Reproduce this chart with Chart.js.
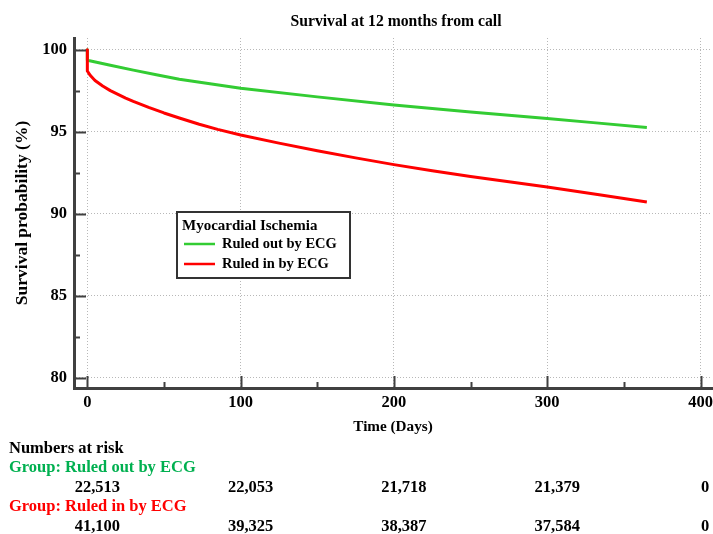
<!DOCTYPE html>
<html>
<head>
<meta charset="utf-8">
<script src="https://cdn.jsdelivr.net/npm/chart.js@4/dist/chart.umd.min.js"></script>
<style>
  body { margin: 0; background: #fff; }
  canvas { display: block; }
</style>
</head>
<body>
<canvas id="kmChart" width="713" height="534"></canvas>
<script>
// Kaplan-Meier curves (days, survival %)
const outDays = [0, 0, 15, 30, 45, 60, 80, 100, 150, 200, 250, 300, 330, 365];
const outSurv = [100, 99.35, 99.05, 98.75, 98.47, 98.2, 97.92, 97.64, 97.12, 96.62, 96.2, 95.8, 95.55, 95.26];
const inDays = [0, 0, 2, 5, 10, 15, 20, 25, 30, 40, 50, 60, 73, 85, 100, 125, 150, 175, 200, 225, 250, 275, 300, 335, 365];
const inSurv = [100, 98.7, 98.42, 98.12, 97.78, 97.5, 97.27, 97.05, 96.85, 96.48, 96.14, 95.83, 95.45, 95.14, 94.8, 94.3, 93.84, 93.4, 92.99, 92.62, 92.27, 91.94, 91.63, 91.14, 90.71];

const groupNames = ['Ruled out by ECG', 'Ruled in by ECG'];
const xTicks = [0, 100, 200, 300, 400];
const yTicks = [80, 85, 90, 95, 100];

// numbers at risk table
const riskTimes = [0, 100, 200, 300, 400];
const riskOut = ['22,513', '22,053', '21,718', '21,379', '0'];
const riskIn = ['41,100', '39,325', '38,387', '37,584', '0'];

const FONT = '"Liberation Serif", "Times New Roman", serif';
const GREEN = '#33cc33';
const RED = '#ff0000';
const AXIS = '#404040';

const toPts = (xs, ys) => xs.map((d, i) => ({ x: d, y: ys[i] }));

// title, inner tick marks, legend box and risk table
const extras = {
    id: 'extras',
    afterDraw(chart) {
        const { ctx, chartArea: area, scales: { x, y } } = chart;
        ctx.save();

        // title
        ctx.fillStyle = '#000';
        ctx.font = 'bold 15.7px ' + FONT;
        ctx.textAlign = 'center';
        ctx.textBaseline = 'middle';
        ctx.fillText('Survival at 12 months from call', (area.left + area.right) / 2 + 3, 22);

        // tick marks pointing into the plot
        ctx.strokeStyle = AXIS;
        ctx.lineWidth = 2;
        ctx.beginPath();
        yTicks.forEach((v, i) => {
            const py = Math.round(y.getPixelForValue(v)) + 0.5;
            ctx.moveTo(area.left, py); ctx.lineTo(area.left + 12, py);
            if (i < yTicks.length - 1) {
                const pm = Math.round(y.getPixelForValue((v + yTicks[i + 1]) / 2)) + 0.5;
                ctx.moveTo(area.left, pm); ctx.lineTo(area.left + 6, pm);
            }
        });
        xTicks.forEach((v, i) => {
            const px = Math.round(x.getPixelForValue(v)) + 0.5;
            ctx.moveTo(px, area.bottom); ctx.lineTo(px, area.bottom - 12);
            if (i < xTicks.length - 1) {
                const pm = Math.round(x.getPixelForValue((v + xTicks[i + 1]) / 2)) + 0.5;
                ctx.moveTo(pm, area.bottom); ctx.lineTo(pm, area.bottom - 6);
            }
        });
        ctx.stroke();

        // legend box
        const lx = 177, ly = 212, lw = 173, lh = 66;
        ctx.fillStyle = '#fff';
        ctx.fillRect(lx, ly, lw, lh);
        ctx.strokeStyle = '#333';
        ctx.lineWidth = 2;
        ctx.strokeRect(lx, ly, lw, lh);
        ctx.fillStyle = '#000';
        ctx.textAlign = 'left';
        ctx.font = 'bold 15px ' + FONT;
        ctx.fillText('Myocardial Ischemia', 182, 226);
        ctx.font = 'bold 14.5px ' + FONT;
        chart.data.datasets.forEach((ds, i) => {
            const ry = 244 + i * 20;
            ctx.strokeStyle = ds.borderColor;
            ctx.lineWidth = 2.5;
            ctx.beginPath();
            ctx.moveTo(184, ry); ctx.lineTo(215, ry);
            ctx.stroke();
            ctx.fillStyle = '#000';
            ctx.fillText(ds.label, 222, ry);
        });

        // numbers at risk
        ctx.font = 'bold 16.5px ' + FONT;
        ctx.textAlign = 'left';
        ctx.fillStyle = '#000';
        ctx.fillText('Numbers at risk', 9, 449);
        ctx.fillStyle = '#00b050';
        ctx.fillText('Group: ' + groupNames[0], 9, 468);
        ctx.fillStyle = RED;
        ctx.fillText('Group: ' + groupNames[1], 9, 507);
        ctx.fillStyle = '#000';
        ctx.textAlign = 'center';
        riskTimes.forEach((t, i) => {
            const px = Math.min(x.getPixelForValue(t) + 10, 705);
            ctx.fillText(riskOut[i], px, 488);
            ctx.fillText(riskIn[i], px, 527);
        });
        ctx.restore();
    }
};

new Chart(document.getElementById('kmChart'), {
    type: 'line',
    data: {
        datasets: [
            { label: groupNames[0], data: toPts(outDays, outSurv), borderColor: GREEN, borderWidth: 3, order: 1 },
            { label: groupNames[1], data: toPts(inDays, inSurv), borderColor: RED, borderWidth: 3, order: 0 }
        ]
    },
    options: {
        responsive: false,
        animation: false,
        devicePixelRatio: 1,
        layout: { padding: { top: 38, right: 1, left: 0, bottom: 0 } },
        elements: { point: { radius: 0 }, line: { tension: 0, borderCapStyle: 'butt', borderJoinStyle: 'round' } },
        plugins: { legend: { display: false }, title: { display: false }, tooltip: { enabled: false } },
        scales: {
            x: {
                type: 'linear',
                min: -8.7,
                max: 407.5,
                afterBuildTicks: s => { s.ticks = xTicks.map(v => ({ value: v })); },
                afterFit: s => { s.height = 146; s.paddingLeft = 0; s.paddingRight = 0; },
                grid: { color: '#b8b8b8', lineWidth: 1, drawTicks: false },
                border: { color: AXIS, width: 3, dash: [1, 2] },
                ticks: { color: '#000', padding: 5, maxRotation: 0, font: { family: FONT, size: 16.5, weight: 'bold' } },
                title: { display: true, text: 'Time (Days)', color: '#000', padding: { top: 0, bottom: 98 }, font: { family: FONT, size: 15.2, weight: 'bold' } }
            },
            y: {
                min: 79.37,
                max: 100.71,
                afterBuildTicks: s => { s.ticks = yTicks.map(v => ({ value: v })); },
                afterFit: s => { s.width = 74; },
                grid: { color: '#b8b8b8', lineWidth: 1, drawTicks: false },
                border: { color: AXIS, width: 3, dash: [1, 2] },
                ticks: { color: '#000', padding: 7, font: { family: FONT, size: 16.5, weight: 'bold' } },
                title: { display: true, text: 'Survival probability (%)', color: '#000', padding: { top: 12, bottom: 0 }, font: { family: FONT, size: 17.5, weight: 'bold' } }
            }
        }
    },
    plugins: [extras]
});
</script>
</body>
</html>
